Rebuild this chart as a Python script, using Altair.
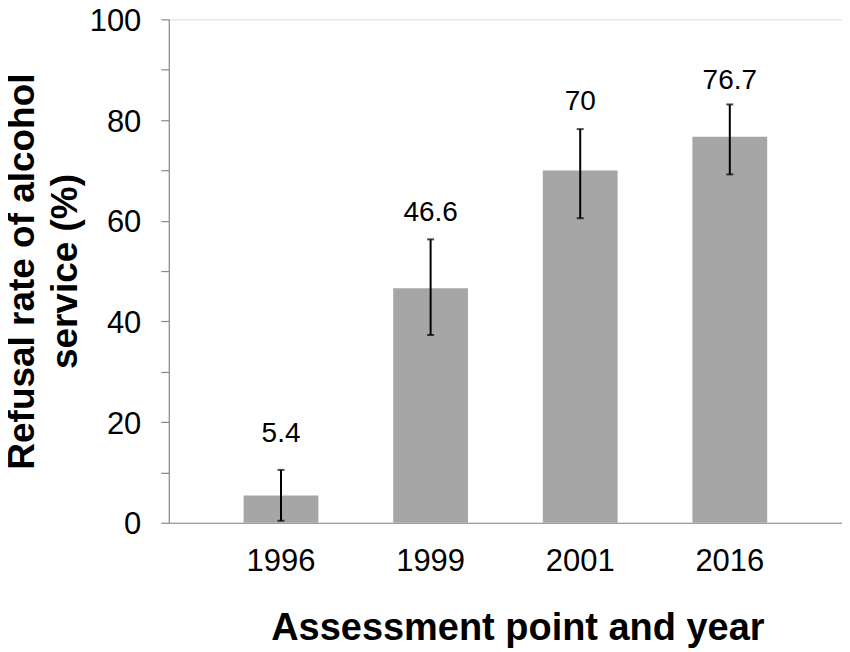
import altair as alt
import pandas as pd

years = ["1996", "1999", "2001", "2016"]
rates = [5.4, 46.6, 70.0, 76.7]
err_low = [0.4, 37.3, 60.5, 69.2]
err_high = [10.5, 56.3, 78.2, 83.1]
label_text = ["5.4", "46.6", "70", "76.7"]
label_pos = [16.1, 59.9, 81.9, 86.1]
y_ticks = list(range(0, 101, 10))

df = pd.DataFrame({
    "year": years,
    "rate": rates,
    "lo": err_low,
    "hi": err_high,
    "txt": label_text,
    "ly": label_pos,
})

FONT = "Liberation Sans"
GREY = "#898989"

x_enc = alt.X(
    "year:N",
    sort=years,
    scale=alt.Scale(paddingInner=0.5, paddingOuter=0.5),
    axis=alt.Axis(
        labelAngle=0, ticks=False, tickSize=0, labelPadding=24,
        labelFontSize=31, labelFont=FONT, labelColor="#000000",
        domainColor=GREY, domainWidth=1.2,
        title="Assessment point and year", titleFont=FONT, titleFontSize=38,
        titleFontWeight="bold", titleColor="#000000",
        titleX=349, titleY=117, titleAlign="center", titleBaseline="alphabetic",
    ),
)

y_scale = alt.Scale(domain=[0, 100], nice=False)

bars = alt.Chart(df).mark_bar(color="#a6a6a6").encode(
    x=x_enc,
    y=alt.Y(
        "rate:Q",
        scale=y_scale,
        axis=alt.Axis(
            values=y_ticks,
            labelExpr="datum.value % 20 === 0 ? datum.label : ''",
            grid=False, tickSize=8, tickColor=GREY, tickWidth=1.2,
            domainColor=GREY, domainWidth=1.2,
            labelFontSize=31, labelFont=FONT, labelColor="#000000", labelPadding=20,
            labelOffset=2,
            title=["Refusal rate of alcohol", "service (%)"],
            titleFont=FONT, titleFontSize=37, titleFontWeight="bold", titleColor="#000000",
            titleAngle=270, titleX=-135, titleY=252, titleAlign="center",
            titleBaseline="alphabetic", titleLineHeight=43,
        ),
    ),
)

rules = alt.Chart(df).mark_rule(color="#000000", strokeWidth=2).encode(
    x=alt.X("year:N", sort=years),
    y=alt.Y("lo:Q", scale=y_scale),
    y2="hi:Q",
)

caps_lo = alt.Chart(df).mark_tick(color="#000000", size=7, thickness=2).encode(
    x=alt.X("year:N", sort=years),
    y=alt.Y("lo:Q", scale=y_scale),
)
caps_hi = alt.Chart(df).mark_tick(color="#000000", size=7, thickness=2).encode(
    x=alt.X("year:N", sort=years),
    y=alt.Y("hi:Q", scale=y_scale),
)

texts = alt.Chart(df).mark_text(
    font=FONT, fontSize=28, color="#000000", align="center", baseline="alphabetic"
).encode(
    x=alt.X("year:N", sort=years),
    y=alt.Y("ly:Q", scale=y_scale),
    text="txt:N",
)

chart = alt.layer(bars, rules, caps_lo, caps_hi, texts).properties(
    width=674,
    height=504,
    autosize=alt.AutoSizeParams(type="none"),
    padding={"left": 161, "top": 11, "right": 0, "bottom": 128},
).configure_view(stroke=GREY, strokeWidth=1.2).configure(background="white")

chart.save("out.html", embed_options={"renderer": "svg", "actions": False})
